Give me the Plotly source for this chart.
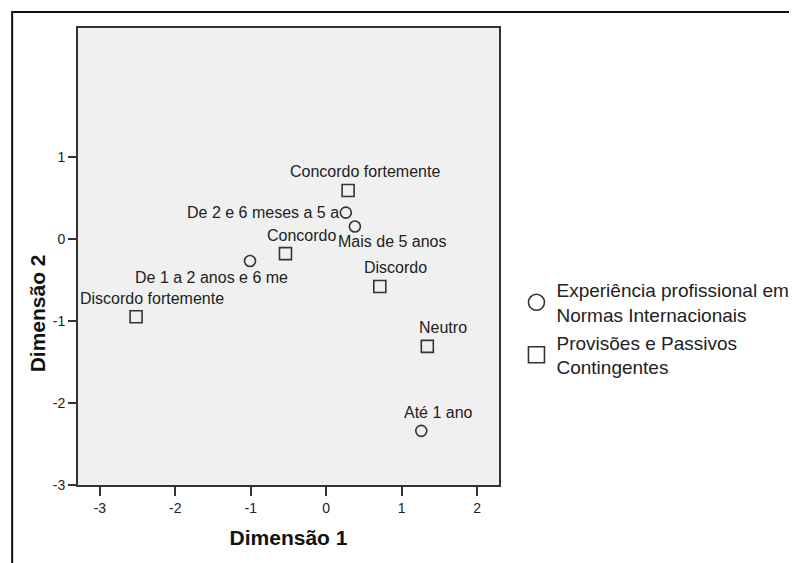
import plotly.graph_objects as go

# --- Data ---
exp_labels = ["De 2 e 6 meses a 5 a", "Mais de 5 anos", "De 1 a 2 anos e 6 me", "Até 1 ano"]
exp_dim1 = [0.26, 0.38, -1.01, 1.26]
exp_dim2 = [0.32, 0.15, -0.27, -2.34]

prov_labels = ["Concordo fortemente", "Concordo", "Discordo", "Discordo fortemente", "Neutro"]
prov_dim1 = [0.29, -0.54, 0.71, -2.52, 1.34]
prov_dim2 = [0.59, -0.18, -0.58, -0.95, -1.31]

series_names = ["Experiência profissional em<br>Normas Internacionais",
                "Provisões e Passivos<br>Contingentes"]

x_ticks = [-3, -2, -1, 0, 1, 2]
y_ticks = [-3, -2, -1, 0, 1]
x_title = "Dimensão 1"
y_title = "Dimensão 2"

# --- Styling ---
FONT = "Liberation Sans, Arial, sans-serif"
DARK = "#333333"
TXT = "#222222"

# label offsets in pixels (xshift, yshift, xanchor)
exp_offsets = [(-5, 0, "right"), (38, -15, "center"), (-39, -16, "center"), (17, 18, "center")]
prov_offsets = [(17, 19, "center"), (16, 18, "center"), (16, 19, "center"),
                (16, 18, "center"), (16, 19, "center")]

fig = go.Figure()

fig.add_trace(go.Scatter(
    x=exp_dim1, y=exp_dim2, mode="markers", showlegend=False,
    marker=dict(symbol="circle-open", size=11, color=DARK, line=dict(width=1.6, color=DARK)),
    hoverinfo="text", text=exp_labels))
fig.add_trace(go.Scatter(
    x=prov_dim1, y=prov_dim2, mode="markers", showlegend=False,
    marker=dict(symbol="square-open", size=12, color=DARK, line=dict(width=1.6, color=DARK)),
    hoverinfo="text", text=prov_labels))

# legend-only entries with larger symbols
fig.add_trace(go.Scatter(
    x=[None], y=[None], mode="markers", name=series_names[0],
    marker=dict(symbol="circle-open", size=16, color=DARK, line=dict(width=1.6, color=DARK))))
fig.add_trace(go.Scatter(
    x=[None], y=[None], mode="markers", name=series_names[1],
    marker=dict(symbol="square-open", size=16, color=DARK, line=dict(width=1.6, color=DARK))))

annotations = []
for xs, ys, labs, offs in [(exp_dim1, exp_dim2, exp_labels, exp_offsets),
                            (prov_dim1, prov_dim2, prov_labels, prov_offsets)]:
    for xv, yv, lab, (dx, dy, anc) in zip(xs, ys, labs, offs):
        annotations.append(dict(
            x=xv, y=yv, xref="x", yref="y", text=lab, showarrow=False,
            xshift=dx, yshift=dy, xanchor=anc, yanchor="middle",
            font=dict(family=FONT, size=16, color=TXT)))

annotations.append(dict(
    x=-0.097, y=0.376, xref="paper", yref="paper", text="<b>" + y_title + "</b>",
    showarrow=False, textangle=-90, xanchor="center", yanchor="middle",
    font=dict(family=FONT, size=21, color="#111111")))

fig.update_layout(
    width=797, height=563,
    margin=dict(l=70, r=305, t=20, b=86),
    paper_bgcolor="white", plot_bgcolor="#f0f0f0",
    font=dict(family=FONT, color=TXT),
    annotations=annotations,
    legend=dict(x=1.039, y=0.468, xanchor="left", yanchor="top",
                font=dict(family=FONT, size=19, color=TXT),
                bgcolor="rgba(0,0,0,0)", tracegroupgap=2, itemsizing="trace"),
    shapes=[dict(type="rect", xref="paper", yref="paper",
                 x0=-0.1564, x1=1.8, y0=-0.25, y1=1.035,
                 line=dict(color="#111111", width=2), fillcolor="rgba(0,0,0,0)", layer="below")],
    hovermode="closest",
)

fig.update_xaxes(
    range=[-3.29, 2.29], tickvals=x_ticks, ticktext=[str(v) for v in x_ticks],
    showgrid=False, zeroline=False, showline=True, linecolor=DARK, linewidth=2, mirror=True,
    ticks="outside", ticklen=9, tickwidth=1.6, tickcolor=DARK,
    tickfont=dict(family=FONT, size=14, color=TXT),
    title=dict(text="<b>" + x_title + "</b>", font=dict(family=FONT, size=21, color="#111111"), standoff=16),
)
fig.update_yaxes(
    range=[-3, 2.57], tickvals=y_ticks, ticktext=[str(v) for v in y_ticks],
    showgrid=False, zeroline=False, showline=True, linecolor=DARK, linewidth=2, mirror=True,
    ticks="outside", ticklen=8, tickwidth=1.6, tickcolor=DARK,
    tickfont=dict(family=FONT, size=14, color=TXT),
)

fig.write_html("out.html")
